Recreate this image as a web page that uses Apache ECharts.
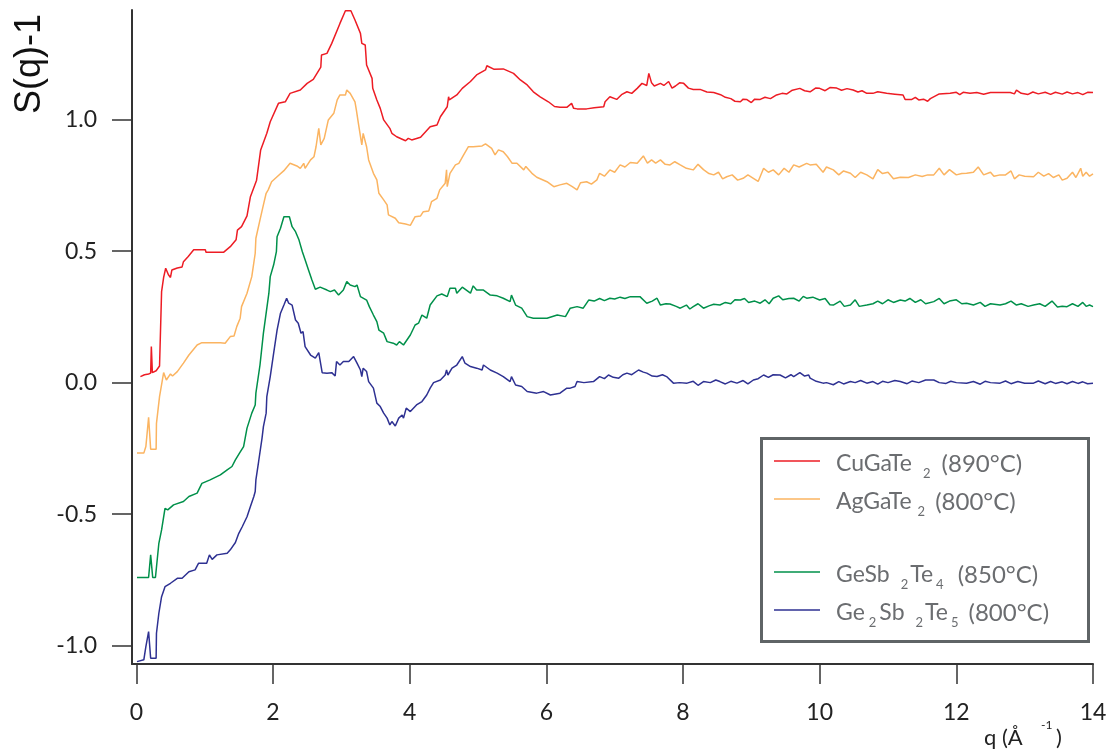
<!DOCTYPE html>
<html>
<head>
<meta charset="utf-8">
<script src="https://cdn.jsdelivr.net/npm/echarts@6/dist/echarts.min.js"></script>
<style>
html,body{margin:0;padding:0;background:#fff;}
#chart{width:1107px;height:749px;}
</style>
</head>
<body>
<div id="chart"></div>
<script>
// ---- Data: [q (1/Å), S(q)-1] ----
const seriesNames = ['CuGaTe2 (890°C)', 'AgGaTe2 (800°C)', 'GeSb2Te4 (850°C)', 'Ge2Sb2Te5 (800°C)'];
const xTicks = [0, 2, 4, 6, 8, 10, 12, 14];
const yTicks = [-1.0, -0.5, 0.0, 0.5, 1.0];

const cuGaTe2 = [[0.06,0.023],[0.12,0.03],[0.18,0.033],[0.21,0.036],[0.22,0.137],[0.235,0.038],[0.29,0.045],[0.34,0.063],[0.37,0.346],[0.40,0.40],[0.43,0.435],[0.47,0.41],[0.50,0.40],[0.52,0.428],[0.60,0.436],[0.67,0.44],[0.69,0.46],[0.76,0.48],[0.84,0.505],[1.01,0.505],[1.02,0.496],[1.28,0.496],[1.375,0.517],[1.46,0.543],[1.48,0.58],[1.54,0.593],[1.62,0.634],[1.67,0.707],[1.76,0.77],[1.82,0.885],[1.91,0.948],[1.96,0.992],[2.08,1.062],[2.18,1.068],[2.25,1.10],[2.40,1.113],[2.50,1.138],[2.59,1.153],[2.70,1.20],[2.71,1.246],[2.79,1.252],[2.86,1.29],[2.98,1.366],[3.06,1.414],[3.14,1.414],[3.20,1.379],[3.28,1.328],[3.30,1.29],[3.35,1.284],[3.37,1.208],[3.45,1.157],[3.46,1.119],[3.52,1.075],[3.57,1.043],[3.62,0.999],[3.71,0.967],[3.74,0.948],[3.81,0.935],[3.94,0.92],[3.98,0.929],[4.03,0.923],[4.16,0.933],[4.30,0.973],[4.40,0.98],[4.45,1.011],[4.55,1.049],[4.57,1.087],[4.58,1.075],[4.69,1.094],[4.77,1.119],[4.89,1.145],[4.98,1.17],[5.11,1.189],[5.13,1.205],[5.23,1.192],[5.37,1.193],[5.52,1.176],[5.62,1.151],[5.72,1.132],[5.81,1.106],[5.91,1.087],[6.03,1.068],[6.12,1.05],[6.20,1.047],[6.30,1.047],[6.37,1.062],[6.40,1.043],[6.45,1.041],[6.59,1.041],[6.70,1.045],[6.84,1.049],[6.86,1.068],[6.93,1.087],[7.03,1.077],[7.10,1.095],[7.18,1.106],[7.25,1.10],[7.33,1.119],[7.40,1.138],[7.47,1.13],[7.50,1.176],[7.54,1.14],[7.58,1.128],[7.67,1.138],[7.72,1.13],[7.79,1.145],[7.84,1.12],[7.89,1.128],[7.95,1.14],[8.01,1.138],[8.08,1.12],[8.15,1.115],[8.25,1.115],[8.35,1.105],[8.45,1.103],[8.55,1.095],[8.62,1.085],[8.70,1.08],[8.76,1.07],[8.84,1.068],[8.88,1.078],[8.93,1.077],[9.00,1.065],[9.05,1.078],[9.13,1.077],[9.20,1.085],[9.28,1.08],[9.37,1.094],[9.45,1.10],[9.52,1.098],[9.60,1.112],[9.71,1.119],[9.78,1.11],[9.86,1.106],[9.94,1.12],[10.0,1.119],[10.08,1.11],[10.15,1.122],[10.25,1.12],[10.32,1.112],[10.40,1.118],[10.49,1.113],[10.56,1.105],[10.62,1.11],[10.69,1.10],[10.78,1.10],[10.85,1.106],[10.98,1.10],[11.10,1.097],[11.22,1.094],[11.25,1.077],[11.35,1.077],[11.40,1.085],[11.45,1.075],[11.52,1.078],[11.58,1.07],[11.62,1.08],[11.75,1.098],[11.91,1.10],[12.0,1.104],[12.05,1.095],[12.10,1.104],[12.2,1.1],[12.3,1.103],[12.40,1.097],[12.5,1.103],[12.64,1.103],[12.79,1.103],[12.85,1.098],[12.88,1.112],[12.95,1.10],[13.05,1.096],[13.12,1.105],[13.2,1.098],[13.3,1.104],[13.38,1.096],[13.45,1.104],[13.55,1.097],[13.62,1.105],[13.7,1.098],[13.78,1.103],[13.85,1.095],[13.92,1.104],[14.0,1.103]];

const agGaTe2 = [[0.01,-0.268],[0.11,-0.268],[0.14,-0.243],[0.18,-0.132],[0.21,-0.253],[0.29,-0.253],[0.295,-0.155],[0.34,-0.053],[0.40,0.038],[0.44,0.01],[0.50,0.033],[0.53,0.025],[0.60,0.042],[0.69,0.074],[0.77,0.105],[0.89,0.143],[0.96,0.152],[1.23,0.152],[1.30,0.15],[1.375,0.175],[1.43,0.177],[1.47,0.213],[1.52,0.245],[1.54,0.289],[1.62,0.34],[1.69,0.403],[1.74,0.492],[1.75,0.549],[1.81,0.619],[1.86,0.676],[1.90,0.72],[1.93,0.733],[1.98,0.764],[2.06,0.783],[2.16,0.806],[2.25,0.834],[2.35,0.824],[2.40,0.815],[2.45,0.834],[2.47,0.815],[2.55,0.847],[2.60,0.859],[2.63,0.897],[2.67,0.967],[2.70,0.904],[2.75,0.929],[2.81,0.999],[2.89,1.024],[2.94,1.075],[2.98,1.094],[3.06,1.094],[3.08,1.113],[3.13,1.10],[3.20,1.068],[3.22,1.037],[3.25,0.986],[3.30,0.904],[3.32,0.948],[3.37,0.897],[3.40,0.847],[3.47,0.796],[3.52,0.771],[3.55,0.72],[3.62,0.695],[3.67,0.676],[3.69,0.638],[3.79,0.625],[3.84,0.608],[3.94,0.603],[4.01,0.598],[4.08,0.631],[4.16,0.634],[4.20,0.65],[4.28,0.653],[4.32,0.688],[4.40,0.701],[4.44,0.733],[4.52,0.758],[4.54,0.809],[4.55,0.745],[4.59,0.796],[4.67,0.828],[4.72,0.834],[4.79,0.866],[4.86,0.897],[4.93,0.897],[5.06,0.90],[5.11,0.908],[5.20,0.891],[5.25,0.866],[5.30,0.885],[5.37,0.878],[5.43,0.86],[5.50,0.834],[5.57,0.834],[5.67,0.809],[5.70,0.822],[5.79,0.796],[5.86,0.781],[6.01,0.764],[6.11,0.745],[6.20,0.752],[6.30,0.758],[6.38,0.745],[6.45,0.733],[6.50,0.76],[6.59,0.764],[6.66,0.755],[6.74,0.771],[6.78,0.796],[6.85,0.785],[6.93,0.809],[7.0,0.80],[7.08,0.828],[7.15,0.82],[7.23,0.837],[7.33,0.834],[7.42,0.862],[7.48,0.835],[7.54,0.847],[7.60,0.835],[7.67,0.847],[7.74,0.83],[7.81,0.828],[7.88,0.84],[7.96,0.828],[8.05,0.815],[8.15,0.809],[8.22,0.83],[8.30,0.81],[8.38,0.795],[8.45,0.79],[8.52,0.80],[8.58,0.775],[8.64,0.783],[8.72,0.79],[8.80,0.77],[8.88,0.777],[8.95,0.79],[9.03,0.777],[9.10,0.765],[9.18,0.815],[9.25,0.80],[9.32,0.809],[9.40,0.79],[9.48,0.815],[9.55,0.80],[9.62,0.828],[9.70,0.82],[9.81,0.834],[9.86,0.828],[9.95,0.83],[10.05,0.80],[10.1,0.82],[10.2,0.809],[10.28,0.79],[10.35,0.805],[10.45,0.796],[10.52,0.78],[10.6,0.80],[10.69,0.79],[10.78,0.775],[10.85,0.81],[10.92,0.795],[11.0,0.80],[11.08,0.775],[11.18,0.781],[11.3,0.78],[11.4,0.79],[11.5,0.784],[11.58,0.79],[11.67,0.79],[11.75,0.815],[11.82,0.79],[11.9,0.81],[12.0,0.79],[12.08,0.795],[12.15,0.796],[12.25,0.80],[12.32,0.82],[12.4,0.79],[12.5,0.80],[12.55,0.785],[12.64,0.79],[12.72,0.79],[12.8,0.805],[12.85,0.775],[12.92,0.79],[13.0,0.785],[13.13,0.783],[13.2,0.80],[13.28,0.785],[13.35,0.795],[13.42,0.78],[13.5,0.79],[13.55,0.77],[13.62,0.777],[13.7,0.80],[13.75,0.78],[13.82,0.815],[13.85,0.785],[13.9,0.80],[13.95,0.785],[14.0,0.794]];

const geSb2Te4 = [[0.01,-0.741],[0.18,-0.741],[0.21,-0.655],[0.24,-0.741],[0.28,-0.741],[0.33,-0.611],[0.37,-0.56],[0.42,-0.478],[0.46,-0.484],[0.545,-0.465],[0.69,-0.452],[0.77,-0.433],[0.89,-0.42],[0.96,-0.383],[1.08,-0.37],[1.23,-0.351],[1.33,-0.332],[1.40,-0.319],[1.45,-0.294],[1.51,-0.268],[1.57,-0.243],[1.62,-0.173],[1.69,-0.116],[1.74,-0.085],[1.75,-0.04],[1.81,0.067],[1.86,0.188],[1.90,0.264],[1.94,0.34],[1.96,0.403],[2.01,0.448],[2.05,0.498],[2.06,0.555],[2.11,0.587],[2.16,0.631],[2.24,0.631],[2.28,0.593],[2.33,0.574],[2.38,0.543],[2.43,0.498],[2.47,0.467],[2.52,0.428],[2.57,0.39],[2.62,0.355],[2.69,0.363],[2.79,0.352],[2.84,0.346],[2.90,0.352],[2.96,0.333],[3.03,0.352],[3.08,0.384],[3.13,0.371],[3.20,0.365],[3.23,0.371],[3.28,0.327],[3.37,0.314],[3.41,0.289],[3.47,0.257],[3.52,0.232],[3.55,0.20],[3.62,0.188],[3.67,0.156],[3.76,0.15],[3.81,0.143],[3.85,0.156],[3.91,0.143],[4.01,0.181],[4.08,0.219],[4.13,0.226],[4.18,0.257],[4.25,0.245],[4.30,0.295],[4.40,0.33],[4.47,0.337],[4.55,0.327],[4.59,0.359],[4.67,0.359],[4.69,0.34],[4.77,0.363],[4.89,0.34],[4.93,0.368],[4.98,0.352],[5.08,0.352],[5.18,0.333],[5.28,0.33],[5.37,0.321],[5.47,0.308],[5.49,0.333],[5.55,0.295],[5.64,0.283],[5.72,0.251],[5.81,0.245],[6.01,0.245],[6.16,0.257],[6.28,0.251],[6.35,0.283],[6.45,0.289],[6.54,0.283],[6.62,0.314],[6.70,0.31],[6.78,0.32],[6.85,0.312],[6.93,0.321],[7.0,0.318],[7.08,0.325],[7.15,0.32],[7.23,0.327],[7.37,0.327],[7.47,0.302],[7.55,0.31],[7.62,0.321],[7.67,0.295],[7.75,0.30],[7.81,0.299],[7.90,0.29],[7.96,0.283],[8.05,0.295],[8.10,0.28],[8.15,0.289],[8.22,0.30],[8.30,0.283],[8.38,0.292],[8.45,0.298],[8.54,0.295],[8.62,0.305],[8.70,0.30],[8.76,0.315],[8.84,0.314],[8.9,0.32],[8.96,0.305],[9.05,0.31],[9.13,0.302],[9.20,0.315],[9.26,0.30],[9.32,0.321],[9.40,0.33],[9.46,0.315],[9.55,0.32],[9.62,0.321],[9.70,0.31],[9.76,0.328],[9.81,0.321],[9.9,0.325],[10.0,0.314],[10.08,0.32],[10.15,0.296],[10.2,0.295],[10.3,0.31],[10.36,0.29],[10.45,0.295],[10.52,0.315],[10.58,0.29],[10.69,0.295],[10.78,0.30],[10.85,0.31],[10.92,0.30],[11.0,0.315],[11.08,0.305],[11.18,0.314],[11.25,0.31],[11.32,0.32],[11.4,0.305],[11.48,0.315],[11.55,0.30],[11.67,0.308],[11.75,0.32],[11.82,0.30],[11.9,0.31],[12.0,0.315],[12.08,0.3],[12.15,0.302],[12.25,0.295],[12.35,0.305],[12.42,0.29],[12.5,0.30],[12.64,0.295],[12.72,0.30],[12.8,0.31],[12.88,0.295],[12.95,0.30],[13.05,0.29],[13.13,0.295],[13.22,0.30],[13.3,0.29],[13.4,0.31],[13.48,0.288],[13.55,0.29],[13.62,0.289],[13.7,0.30],[13.78,0.29],[13.85,0.305],[13.9,0.29],[13.95,0.295],[14.0,0.289]];

const ge2Sb2Te5 = [[0.01,-1.061],[0.11,-1.054],[0.14,-1.004],[0.18,-0.947],[0.21,-1.048],[0.29,-1.048],[0.295,-0.953],[0.33,-0.877],[0.37,-0.814],[0.42,-0.776],[0.50,-0.763],[0.60,-0.744],[0.67,-0.744],[0.77,-0.719],[0.86,-0.712],[0.91,-0.687],[1.03,-0.687],[1.07,-0.655],[1.11,-0.672],[1.18,-0.655],[1.33,-0.649],[1.375,-0.636],[1.45,-0.608],[1.50,-0.573],[1.55,-0.548],[1.62,-0.51],[1.67,-0.471],[1.72,-0.433],[1.74,-0.414],[1.75,-0.37],[1.79,-0.30],[1.84,-0.211],[1.86,-0.167],[1.90,-0.116],[1.91,-0.053],[1.96,0.023],[2.01,0.112],[2.06,0.20],[2.11,0.264],[2.16,0.295],[2.20,0.321],[2.23,0.302],[2.28,0.295],[2.33,0.238],[2.37,0.226],[2.41,0.188],[2.44,0.194],[2.47,0.137],[2.55,0.105],[2.62,0.093],[2.67,0.114],[2.72,0.038],[2.79,0.036],[2.86,0.038],[2.91,0.025],[2.93,0.08],[2.98,0.067],[3.03,0.08],[3.11,0.08],[3.18,0.099],[3.23,0.074],[3.28,0.048],[3.30,0.023],[3.32,0.055],[3.37,0.042],[3.40,0.004],[3.47,-0.021],[3.52,-0.078],[3.57,-0.091],[3.62,-0.116],[3.67,-0.135],[3.71,-0.161],[3.74,-0.148],[3.79,-0.165],[3.84,-0.135],[3.89,-0.123],[3.91,-0.135],[3.95,-0.097],[4.01,-0.11],[4.10,-0.085],[4.18,-0.072],[4.25,-0.047],[4.30,-0.021],[4.35,0.0],[4.45,0.01],[4.52,0.029],[4.54,0.048],[4.56,0.029],[4.62,0.055],[4.69,0.067],[4.77,0.099],[4.81,0.074],[4.89,0.061],[4.98,0.055],[5.06,0.048],[5.08,0.067],[5.18,0.048],[5.28,0.036],[5.37,0.023],[5.47,0.004],[5.49,0.023],[5.55,-0.009],[5.64,-0.015],[5.72,-0.034],[5.86,-0.04],[5.96,-0.034],[6.06,-0.047],[6.20,-0.04],[6.30,-0.021],[6.35,-0.021],[6.42,-0.015],[6.45,0.004],[6.55,0.0],[6.69,0.004],[6.78,0.023],[6.85,0.015],[6.91,0.029],[6.98,0.02],[7.06,0.017],[7.12,0.03],[7.18,0.036],[7.25,0.03],[7.35,0.048],[7.42,0.04],[7.47,0.036],[7.55,0.025],[7.62,0.023],[7.70,0.03],[7.76,0.023],[7.86,-0.002],[7.95,0.0],[8.06,-0.002],[8.15,0.005],[8.22,-0.01],[8.30,0.004],[8.40,0.0],[8.48,0.01],[8.54,0.004],[8.62,-0.005],[8.70,0.005],[8.79,-0.002],[8.88,0.008],[8.95,-0.005],[9.03,0.01],[9.10,0.015],[9.18,0.029],[9.25,0.02],[9.32,0.03],[9.42,0.029],[9.50,0.018],[9.58,0.03],[9.62,0.023],[9.71,0.038],[9.78,0.025],[9.84,0.029],[9.86,0.017],[9.95,0.005],[10.05,-0.002],[10.1,0.0],[10.2,-0.008],[10.28,0.004],[10.35,-0.005],[10.45,0.004],[10.52,0.0],[10.6,0.008],[10.69,-0.002],[10.78,0.004],[10.85,-0.006],[10.92,0.005],[11.0,0.0],[11.1,0.008],[11.18,0.004],[11.28,-0.004],[11.35,0.006],[11.45,0.0],[11.55,0.01],[11.67,0.01],[11.75,0.0],[11.85,-0.003],[11.92,0.005],[12.0,0.0],[12.15,-0.002],[12.25,0.004],[12.35,-0.006],[12.42,0.005],[12.5,0.0],[12.64,-0.002],[12.72,0.006],[12.8,-0.004],[12.9,0.004],[13.0,-0.002],[13.13,-0.002],[13.2,0.006],[13.3,-0.004],[13.38,0.004],[13.45,-0.003],[13.55,0.003],[13.62,-0.004],[13.7,0.004],[13.78,-0.003],[13.85,0.003],[13.92,-0.004],[14.0,-0.002]];

const colors = ['#ed1c24', '#fbb461', '#00904a', '#2e3192'];

// ---- Chart ----
const chart = echarts.init(document.getElementById('chart'), null, {renderer: 'canvas'});
const FONT = 'Lato, "DejaVu Sans", sans-serif';
const axisColor = '#333333';
const legendColor = '#6b6d70';

const legendItems = [
  {y: 461, rich: '{m|CuGaTe}{s1|2}{p|(890°C)}'},
  {y: 499, rich: '{m|AgGaTe}{s2|2}{p|(800°C)}'},
  {y: 572, rich: '{m|GeSb}{s3|2}{m|Te}{s4|4}{p2|(850°C)}'},
  {y: 610, rich: '{m|Ge}{s5|2}{m|Sb}{s3|2}{m|Te}{s4|5}{p|(800°C)}'}
];
const subBase = {fontFamily: FONT, fontSize: 13, fill: legendColor, lineHeight: 13, verticalAlign: 'bottom'};
const legendRich = {
  m: {fontFamily: FONT, fontSize: 23, fill: legendColor, lineHeight: 32},
  p: {fontFamily: FONT, fontSize: 24, fill: legendColor, lineHeight: 32},
  p2: {fontFamily: FONT, fontSize: 24, fill: legendColor, lineHeight: 32, padding: [0, 0, 0, 4]},
  s1: Object.assign({}, subBase, {padding: [0, 11, 0, 11]}),
  s2: Object.assign({}, subBase, {padding: [0, 10, 0, 6]}),
  s3: Object.assign({}, subBase, {padding: [0, 2, 0, 11]}),
  s4: Object.assign({}, subBase, {padding: [0, 10, 0, 3]}),
  s5: Object.assign({}, subBase, {padding: [0, 3, 0, 4]})
};

const graphics = [
  {type: 'text', x: 30, y: 64, rotation: Math.PI / 2,
   style: {text: 'S(q)-1', font: '36px "Liberation Sans", Arial, sans-serif', fill: '#111', align: 'center', verticalAlign: 'middle'}},
  {type: 'text', x: 984, y: 738,
   style: {text: 'q (Å', font: '22px ' + FONT, fill: '#222', align: 'left', verticalAlign: 'middle'}},
  {type: 'text', x: 1041, y: 725,
   style: {text: '-1', font: '12px ' + FONT, fill: '#222', align: 'left', verticalAlign: 'middle'}},
  {type: 'text', x: 1056, y: 738,
   style: {text: ')', font: '22px ' + FONT, fill: '#222', align: 'left', verticalAlign: 'middle'}},
  {type: 'rect', shape: {x: 761.5, y: 438.5, width: 327, height: 203},
   style: {fill: '#fff', stroke: '#5f6466', lineWidth: 3}, z: 10}
];
legendItems.forEach((it, i) => {
  graphics.push({type: 'line', shape: {x1: 774, y1: it.y, x2: 820, y2: it.y},
    style: {stroke: colors[i], lineWidth: 1.5}, z: 11});
  graphics.push({type: 'text', x: 836, y: it.y + 3, z: 11,
    style: {text: it.rich, align: 'left', verticalAlign: 'middle', rich: legendRich}});
});

const option = {
  animation: false,
  backgroundColor: '#ffffff',
  grid: {left: 132, right: 14, top: 10, bottom: 85, containLabel: false, outerBoundsMode: 'none'},
  xAxis: {
    type: 'value', min: -0.063, max: 14,
    splitLine: {show: false},
    axisLine: {show: true, onZero: false, lineStyle: {color: axisColor, width: 2}},
    axisTick: {show: true, length: 20, inside: false, customValues: xTicks, lineStyle: {color: axisColor, width: 1.5}},
    axisLabel: {show: true, margin: 37, customValues: xTicks, fontFamily: FONT, fontSize: 23, color: '#222',
      formatter: v => String(v)}
  },
  yAxis: {
    type: 'value', min: -1.07, max: 1.417,
    splitLine: {show: false},
    axisLine: {show: true, onZero: false, lineStyle: {color: axisColor, width: 2}},
    axisTick: {show: true, length: 20, inside: false, customValues: yTicks, lineStyle: {color: axisColor, width: 1.5}},
    axisLabel: {show: true, margin: 35, customValues: yTicks, fontFamily: FONT, fontSize: 23, color: '#222',
      formatter: v => v.toFixed(1)}
  },
  graphic: graphics,
  series: [cuGaTe2, agGaTe2, geSb2Te4, ge2Sb2Te5].map((d, i) => ({
    name: seriesNames[i], type: 'line', data: d, showSymbol: false, symbol: 'none',
    lineStyle: {color: colors[i], width: 1.5}, itemStyle: {color: colors[i]},
    clip: true, z: 2
  }))
};
chart.setOption(option);
</script>
</body>
</html>
